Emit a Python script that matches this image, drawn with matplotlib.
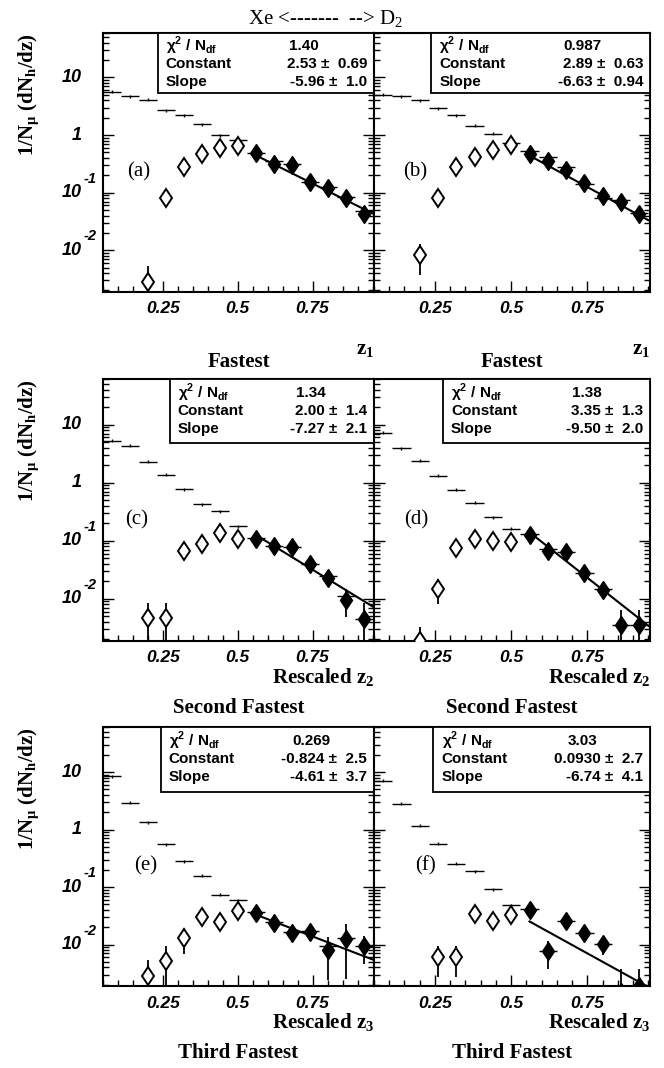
import numpy as np
import matplotlib.pyplot as plt
import matplotlib.transforms as mtransforms
from matplotlib.patches import Rectangle
from matplotlib.ticker import FixedLocator, LogLocator, MultipleLocator, NullFormatter

SERIF = 'Liberation Serif'
SANS = 'Liberation Sans'
nan = np.nan

# bin centres of the z histograms (15 bins)
z = [0.08, 0.14, 0.20, 0.26, 0.32, 0.38, 0.44, 0.50, 0.56, 0.62, 0.68, 0.74, 0.80, 0.86, 0.92]

# horizontal-bar points, one per bin
cross_a = [5.7, 4.7, 4.1, 2.7, 2.2, 1.55, 1.0, 0.83, 0.48, 0.35, 0.31, 0.155, 0.127, 0.085, 0.047]
cross_b = [5.0, 4.7, 4.0, 2.9, 2.2, 1.46, 1.05, 0.74, 0.52, 0.41, 0.28, 0.142, 0.082, 0.075, 0.045]
cross_c = [5.3, 4.3, 2.3, 1.36, 0.77, 0.42, 0.32, 0.178, 0.110, 0.080, 0.077, 0.039, 0.025, 0.011, 0.0045]
cross_d = [7.2, 3.9, 2.4, 1.32, 0.76, 0.45, 0.255, 0.16, 0.131, 0.072, 0.063, 0.028, 0.0145, 0.0036, 0.0036]
cross_e = [8.4, 2.9, 1.33, 0.56, 0.28, 0.157, 0.073, 0.059, 0.037, 0.025, 0.0165, 0.017, 0.0093, 0.013, 0.0093]
cross_f = [7.1, 2.8, 1.16, 0.57, 0.254, 0.187, 0.092, 0.048, 0.042, 0.0076, 0.026, 0.016, 0.0102, nan, 0.0019]

# diamonds, bins 3..15 (open below z=0.53, filled = fitted)
diam_a = [0.0028, 0.080, 0.277, 0.47, 0.59, 0.65, 0.48, 0.32, 0.30, 0.155, 0.119, 0.080, 0.043]
diam_b = [0.0083, 0.080, 0.277, 0.41, 0.55, 0.68, 0.47, 0.36, 0.25, 0.146, 0.089, 0.068, 0.042]
diam_c = [0.0047, 0.0047, 0.067, 0.088, 0.135, 0.107, 0.107, 0.080, 0.077, 0.039, 0.023, 0.0097, 0.0045]
diam_d = [0.0019, 0.0149, 0.074, 0.105, 0.100, 0.096, 0.126, 0.067, 0.065, 0.028, 0.0139, 0.0036, 0.0036]
diam_e = [0.0028, 0.0052, 0.013, 0.030, 0.025, 0.039, 0.036, 0.024, 0.016, 0.0165, 0.0081, 0.0126, 0.0093]
diam_f = [nan, 0.006, 0.006, 0.034, 0.026, 0.032, 0.040, 0.0076, 0.026, 0.016, 0.0102, 0.0015, 0.0019]

# relative errors of the diamonds
derr_a = [0.9, 0.1, 0.08, 0.08, 0.08, 0.08, 0.1, 0.1, 0.1, 0.12, 0.12, 0.15, 0.15]
derr_b = [0.55, 0.1, 0.08, 0.08, 0.08, 0.08, 0.1, 0.1, 0.1, 0.12, 0.12, 0.15, 0.15]
derr_c = [0.8, 0.8, 0.12, 0.1, 0.1, 0.1, 0.12, 0.12, 0.12, 0.15, 0.2, 0.5, 0.9]
derr_d = [0.75, 0.45, 0.1, 0.1, 0.1, 0.1, 0.1, 0.12, 0.12, 0.15, 0.2, 0.8, 0.8]
derr_e = [0.95, 0.8, 0.48, 0.3, 0.25, 0.2, 0.15, 0.25, 0.3, 0.3, 0.7, 0.8, 0.5]
derr_f = [0.0, 0.55, 0.55, 0.2, 0.2, 0.2, 0.15, 0.5, 0.25, 0.25, 0.35, 1.5, 1.0]

# fit results
chi2 = ['1.40', '0.987', '1.34', '1.38', '0.269', '3.03']
const = ['2.53', '2.89', '2.00', '3.35', '-0.824', '0.0930']
const_err = ['0.69', '0.63', '1.4', '1.3', '2.5', '2.7']
slope = ['-5.96', '-6.63', '-7.27', '-9.50', '-4.61', '-6.74']
slope_err = ['1.0', '0.94', '2.1', '2.0', '3.7', '4.1']

tags = ['(a)', '(b)', '(c)', '(d)', '(e)', '(f)']
xlabels = [r'z$_\mathregular{1}$', r'z$_\mathregular{1}$',
           r'Rescaled z$_\mathregular{2}$', r'Rescaled z$_\mathregular{2}$',
           r'Rescaled z$_\mathregular{3}$', r'Rescaled z$_\mathregular{3}$']
titles = ['Fastest', 'Fastest', 'Second Fastest', 'Second Fastest',
          'Third Fastest', 'Third Fastest']
yticks = [0.01, 0.1, 1, 10]
ytick_base = ['10', '10', '1', '10']
ytick_exp = ['-2', '-1', '', '']

crosses = [cross_a, cross_b, cross_c, cross_d, cross_e, cross_f]
diams = [diam_a, diam_b, diam_c, diam_d, diam_e, diam_f]
derrs = [derr_a, derr_b, derr_c, derr_d, derr_e, derr_f]

W, H = 664, 1068
fig = plt.figure(figsize=(W / 100, H / 100), dpi=100)

cols = [(103, 374), (374, 650)]
rows = [(32.7, 291.7), (379.3, 640.7), (727.3, 986)]
box_x = [0.202, 0.207, 0.246, 0.249, 0.213, 0.215]
box_y = [0.766, 0.766, 0.755, 0.757, 0.751, 0.751]
chi_x = [0.797, 0.825, 0.821, 0.825, 0.838, 0.81]
tag_x = [0.09, 0.105, 0.08, 0.11, 0.116, 0.15]
xlab_y = [-0.225, -0.225, -0.14, -0.14, -0.14, -0.14]
title_y = [-0.272, -0.272, -0.258, -0.258, -0.258, -0.258]

zc = np.array(z)
zd = zc[2:]
for i in range(6):
    r, c = divmod(i, 2)
    x0, x1 = cols[c]
    y0, y1 = rows[r]
    ax = fig.add_axes([x0 / W, 1 - y1 / H, (x1 - x0) / W, (y1 - y0) / H])
    ax.set_yscale('log')
    ax.set_xlim(0.05, 0.955)
    ax.set_ylim(0.0019, 60)

    cr = np.array(crosses[i])
    ax.errorbar(zc, cr, xerr=0.03, yerr=0.06 * cr, fmt='none', ecolor='black',
                elinewidth=1.0, capsize=0, zorder=2)

    d = np.array(diams[i])
    f = np.array(derrs[i])
    lo = np.minimum(f * d, 0.999 * d)
    ax.errorbar(zd, d, yerr=[lo, f * d], fmt='none', ecolor='black',
                elinewidth=1.3, capsize=0, zorder=3)
    op = zd < 0.53
    ax.plot(zd[op], d[op], 'd', ms=9.5, mfc='white', mec='black', mew=1.4, zorder=4)
    ax.plot(zd[~op], d[~op], 'd', ms=9.5, mfc='black', mec='black', mew=1.0, zorder=4)

    zz = np.linspace(0.56, 0.955, 60)
    ax.plot(zz, np.exp(float(const[i]) + float(slope[i]) * zz), color='black',
            lw=1.5, zorder=4)

    for s in ax.spines.values():
        s.set_linewidth(1.5)
    ax.xaxis.set_major_locator(FixedLocator([0.25, 0.5, 0.75]))
    ax.xaxis.set_minor_locator(MultipleLocator(0.05))
    ax.yaxis.set_major_locator(FixedLocator(yticks))
    ax.yaxis.set_minor_locator(LogLocator(base=10, subs=np.arange(2, 10), numticks=20))
    ax.yaxis.set_minor_formatter(NullFormatter())
    ax.set_yticklabels([])
    ax.tick_params(which='both', direction='in', left=True, right=True, top=False,
                   bottom=True, width=1.0)
    ax.tick_params(which='major', length=8)
    ax.tick_params(which='minor', length=4.5)
    ax.tick_params(axis='x', pad=7)
    ax.set_xticklabels(['0.25', '0.5', '0.75'], fontfamily=SANS, fontweight='bold',
                       fontstyle='italic', fontsize=12.5)

    if c == 0:
        tr = mtransforms.blended_transform_factory(ax.transAxes, ax.transData)
        for v, b, e in zip(yticks, ytick_base, ytick_exp):
            ax.text(-0.078, v, b, transform=tr, ha='right', va='center', fontsize=13,
                    fontfamily=SANS, fontweight='bold', fontstyle='italic')
            if e:
                tre = mtransforms.offset_copy(tr, fig=fig, x=1, y=5, units='points')
                ax.text(-0.078, v, e, transform=tre, ha='left', va='bottom',
                        fontsize=10.5, fontfamily=SANS, fontweight='bold',
                        fontstyle='italic')
        ax.text(-0.27, 1.0, r'1/N$_\mathregular{μ}$ (dN$_\mathregular{h}$/dz)',
                transform=ax.transAxes, rotation=90, ha='center', va='top',
                fontsize=15, fontfamily=SERIF, fontweight='bold')

    # statistics box
    ax.add_patch(Rectangle((box_x[i], box_y[i]), 1 - box_x[i], 1 - box_y[i],
                           transform=ax.transAxes, fc='white', ec='black', lw=1.3,
                           zorder=6, clip_on=False))
    kw = dict(transform=ax.transAxes, fontsize=11, fontfamily=SANS, fontweight='bold',
              va='center', zorder=7)
    lx = box_x[i] + 0.03
    ax.text(lx, 0.948, r'χ$^\mathregular{2}$ / N$_\mathregular{df}$', ha='left', **kw)
    ax.text(lx, 0.878, 'Constant', ha='left', **kw)
    ax.text(lx, 0.808, 'Slope', ha='left', **kw)
    ax.text(chi_x[i], 0.948, chi2[i], ha='right', **kw)
    ax.text(0.975, 0.878, const[i] + ' ±  ' + const_err[i], ha='right', **kw)
    ax.text(0.975, 0.808, slope[i] + ' ±  ' + slope_err[i], ha='right', **kw)

    ax.text(tag_x[i], 0.463, tags[i], transform=ax.transAxes, ha='left', va='center',
            fontsize=15, fontfamily=SERIF)
    ax.text(1.0, xlab_y[i], xlabels[i], transform=ax.transAxes, ha='right',
            va='center', fontsize=15, fontfamily=SERIF, fontweight='bold')
    ax.text(0.5, title_y[i], titles[i], transform=ax.transAxes, ha='center',
            va='center', fontsize=15, fontfamily=SERIF, fontweight='bold')

fig.text(326 / W, 1 - 19 / H, r'Xe <-------  --> D$_\mathregular{2}$', ha='center',
         va='center', fontsize=15, fontfamily=SERIF)

fig.savefig('out.png', dpi=100)
